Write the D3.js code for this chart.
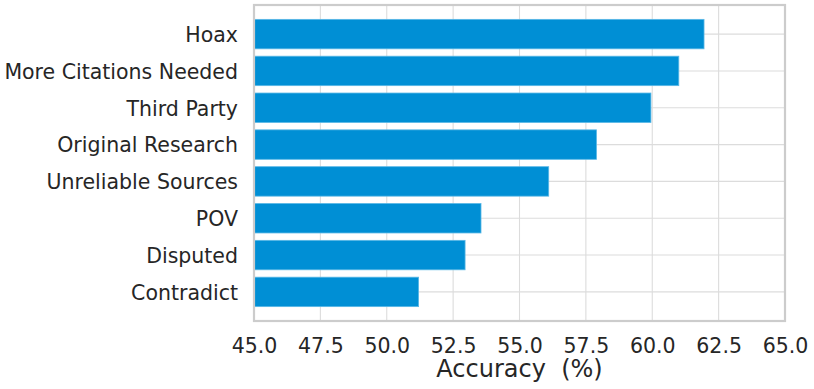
<!DOCTYPE html>
<html>
<head>
<meta charset="utf-8">
<script src="https://cdn.jsdelivr.net/npm/d3@7"></script>
<style>
  html, body { margin: 0; padding: 0; background: #fff; }
  svg { display: block; font-family: "DejaVu Sans", sans-serif; }
</style>
</head>
<body>
<svg id="chart" width="814" height="389"></svg>
<script>
const categories = ["Hoax", "More Citations Needed", "Third Party", "Original Research",
                    "Unreliable Sources", "POV", "Disputed", "Contradict"];
const accuracy = [61.95, 61.0, 59.95, 57.9, 56.1, 53.55, 52.95, 51.2];
const xTicks = [45.0, 47.5, 50.0, 52.5, 55.0, 57.5, 60.0, 62.5, 65.0];
const xLabel = "Accuracy  (%)";

const svg = d3.select("#chart");
const pL = 254, pR = 785, pT = 5, pB = 321;

const x = d3.scaleLinear().domain([45, 65]).range([pL, pR]);
// matplotlib-like: categories at integer positions, bar height 0.8, 5% margins
const n = categories.length;
const y = d3.scaleLinear().domain([-0.79, n - 1 + 0.79]).range([pB, pT]);
const pos = i => n - 1 - i; // first category at top

// gridlines
svg.append("g").selectAll("line").data(xTicks).join("line")
  .attr("x1", d => x(d)).attr("x2", d => x(d))
  .attr("y1", pT).attr("y2", pB)
  .attr("stroke", "#dcdcdc").attr("stroke-width", 1.1);
svg.append("g").selectAll("line").data(categories).join("line")
  .attr("x1", pL).attr("x2", pR)
  .attr("y1", (d, i) => y(pos(i))).attr("y2", (d, i) => y(pos(i)))
  .attr("stroke", "#dcdcdc").attr("stroke-width", 1.1);

// bars
const bh = y(0) - y(0.8);
svg.append("g").selectAll("rect").data(accuracy).join("rect")
  .attr("x", x(45))
  .attr("y", (d, i) => y(pos(i) + 0.4))
  .attr("width", d => x(d) - x(45))
  .attr("height", bh)
  .attr("fill", "#008fd5")
  .attr("stroke", "#5ab8e6").attr("stroke-width", 0.8);

// frame
svg.append("rect")
  .attr("x", pL).attr("y", pT)
  .attr("width", pR - pL).attr("height", pB - pT)
  .attr("fill", "none").attr("stroke", "#cccccc").attr("stroke-width", 2.2);

// x axis
const xAxis = d3.axisBottom(x).tickValues(xTicks).tickFormat(d3.format(".1f")).tickSize(0).tickPadding(0);
const gx = svg.append("g").attr("transform", `translate(0,${pB})`).call(xAxis);
gx.select(".domain").remove();
gx.selectAll("text")
  .attr("y", 31.7).attr("dy", null)
  .attr("fill", "#262626").style("font-size", "20.5px").style("font-family", "DejaVu Sans");

// y axis
const yBand = d3.scalePoint().domain(categories).range([y(n - 1), y(0)]);
const yAxis = d3.axisLeft(yBand).tickSize(0).tickPadding(16);
const gy = svg.append("g").attr("transform", `translate(${pL},0)`).call(yAxis);
gy.select(".domain").remove();
gy.selectAll("text")
  .attr("dy", "0.36em")
  .attr("fill", "#262626").style("font-size", "20.5px").style("font-family", "DejaVu Sans");

// x label
svg.append("text")
  .attr("x", (pL + pR) / 2).attr("y", 377)
  .attr("text-anchor", "middle")
  .attr("fill", "#262626")
  .style("font-size", "24px")
  .style("white-space", "pre")
  .attr("xml:space", "preserve")
  .text(xLabel);
</script>
</body>
</html>
